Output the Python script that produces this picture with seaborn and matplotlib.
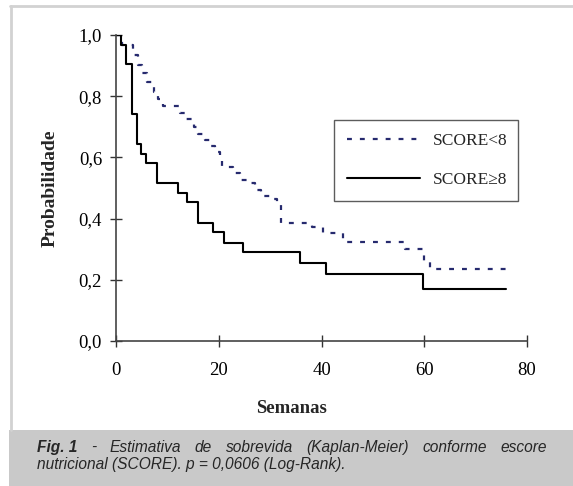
import numpy as np
import pandas as pd
import seaborn as sns
import matplotlib.pyplot as plt
from matplotlib.patches import Rectangle
from matplotlib.lines import Line2D
from matplotlib.ticker import FuncFormatter

# Kaplan-Meier steps (weeks, survival probability)
weeks_lt8 = [0, 1.1, 3.4, 4.2, 5.0, 6.0, 7.3, 8.1, 9.2, 12.45, 13.4, 15.2, 16.0,
             17.3, 18.3, 19.3, 20.2, 20.7, 22.8, 24.1, 26.1, 27.0, 28.2, 30.1,
             31.4, 32.2, 38.1, 40.2, 44.2, 56.2, 59.9, 61.1, 75.9]
surv_lt8 = [1.0, 0.967, 0.935, 0.903, 0.875, 0.846, 0.813, 0.79, 0.768, 0.745,
            0.725, 0.70, 0.676, 0.657, 0.637, 0.619, 0.60, 0.57, 0.549, 0.526,
            0.516, 0.493, 0.474, 0.464, 0.452, 0.387, 0.372, 0.352, 0.325,
            0.30, 0.26, 0.236, 0.236]

weeks_ge8 = [0, 0.9, 1.95, 3.05, 4.15, 4.8, 5.84, 8.0, 12.1, 13.9, 15.9, 18.9,
             21.0, 24.8, 35.9, 40.8, 59.8, 75.9]
surv_ge8 = [1.0, 0.967, 0.904, 0.742, 0.644, 0.611, 0.581, 0.517, 0.483, 0.454,
            0.387, 0.355, 0.319, 0.291, 0.255, 0.22, 0.169, 0.169]

x_ticks = [0, 20, 40, 60, 80]
y_ticks = [0.0, 0.2, 0.4, 0.6, 0.8, 1.0]
labels = ["SCORE<8", "SCORE\u22658"]

caption_line1 = ["Estimativa", "de", "sobrevida", "(Kaplan-Meier)", "conforme", "escore"]
caption_line2 = "nutricional (SCORE). p = 0,0606 (Log-Rank)."

sns.set_theme(style="white")
serif = ["Liberation Serif", "DejaVu Serif"]
sans = ["Liberation Sans", "DejaVu Sans"]
plt.rcParams["font.family"] = serif

W, H = 573, 486
fig = plt.figure(figsize=(W / 100, H / 100), dpi=100)
fig.patch.set_facecolor("white")

# frame and caption band
fig.add_artist(Rectangle((9 / W, 0), 1, 56 / H, transform=fig.transFigure,
                         facecolor="#c9c9c9", edgecolor="none", zorder=0))
fig.add_artist(Line2D([11 / W, 11 / W], [56 / H, 1 - 6 / H], transform=fig.transFigure,
                      color="#d2d2d2", lw=2))
fig.add_artist(Line2D([10 / W, 1], [1 - 6 / H, 1 - 6 / H], transform=fig.transFigure,
                      color="#d2d2d2", lw=2))

ax = fig.add_axes([116 / W, 1 - 341 / H, 411 / W, 306 / H])

df_lt8 = pd.DataFrame({"Semanas": weeks_lt8, "Probabilidade": surv_lt8})
df_ge8 = pd.DataFrame({"Semanas": weeks_ge8, "Probabilidade": surv_ge8})

sns.lineplot(data=df_lt8, x="Semanas", y="Probabilidade", ax=ax, color="#262a6e",
             lw=1.6, drawstyle="steps-post", label=labels[0], dashes=False,
             linestyle=(0, (2.2, 3.6)))
sns.lineplot(data=df_ge8, x="Semanas", y="Probabilidade", ax=ax, color="black",
             lw=1.5, drawstyle="steps-post", label=labels[1])

ax.set_xlim(0, 80)
ax.set_ylim(0, 1.0)
ax.set_xticks(x_ticks)
ax.set_yticks(y_ticks)
ax.yaxis.set_major_formatter(FuncFormatter(lambda v, p: f"{v:.1f}".replace(".", ",")))
ax.tick_params(axis="both", direction="inout", length=8, width=1, color="#333333",
               labelsize=13.5, labelcolor="black", left=True, bottom=True)
ax.tick_params(axis="y", pad=6)
ax.tick_params(axis="x", pad=11)
for s in ["top", "right"]:
    ax.spines[s].set_visible(False)
for s in ["left", "bottom"]:
    ax.spines[s].set_color("#444444")
    ax.spines[s].set_linewidth(1.2)

ax.set_xlabel("Semanas", fontsize=13.5, fontweight="bold")
ax.set_ylabel("Probabilidade", fontsize=14, fontweight="bold")
ax.xaxis.set_label_coords(0.428, -0.193)
ax.yaxis.set_label_coords(-0.14, 0.5)

leg = ax.legend(loc="upper left", bbox_to_anchor=(0.53, 0.467, 0.448, 0.255),
                mode="expand", borderaxespad=0, frameon=True, fancybox=False,
                edgecolor="#333333", fontsize=12.5, handlelength=4.2,
                handletextpad=0.75, labelspacing=1.3, borderpad=0.75)
leg.get_frame().set_linewidth(1.0)

# caption, first line justified
fig.canvas.draw()
renderer = fig.canvas.get_renderer()
x0, x1 = 37, 547
y1, y2 = 1 - 447 / H, 1 - 464 / H
fs = 11.2
t = fig.text(x0 / W, y1, "Fig. 1", fontsize=fs, style="italic", fontweight="bold",
             family=sans, va="center")
words = ["-"] + caption_line1
arts = []
for w_ in words:
    a = fig.text(0, y1, w_, fontsize=fs, style="italic", family=sans, va="center")
    arts.append(a)
fig.canvas.draw()
widths = [a.get_window_extent(renderer).width for a in [t] + arts]
gap = (x1 - x0 - sum(widths)) / len(arts)
x = x0 + widths[0]
for a, w_ in zip(arts, widths[1:]):
    x += gap
    a.set_x(x / W)
    x += w_
fig.text(x0 / W, y2, caption_line2, fontsize=fs, style="italic", family=sans,
         va="center")

fig.savefig("out.png", dpi=100)
